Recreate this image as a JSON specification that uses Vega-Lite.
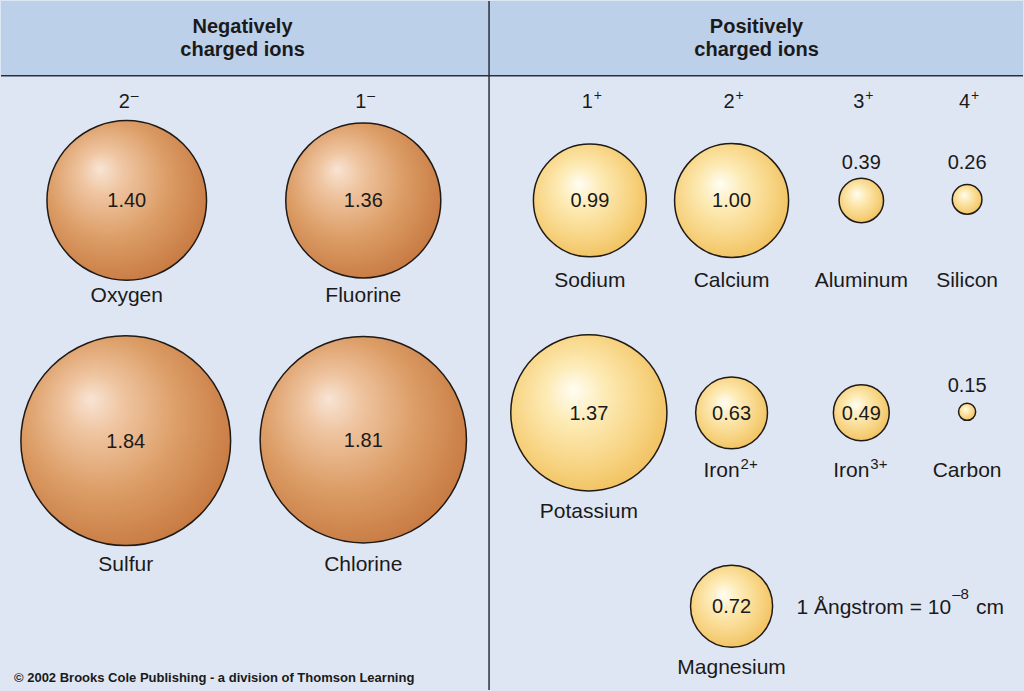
{
  "$schema": "https://vega.github.io/schema/vega-lite/v6.json",
  "width": 1024,
  "height": 691,
  "autosize": {"type": "fit", "contains": "padding"},
  "padding": 0,
  "background": "#dfe6f3",
  "config": {"view": {"stroke": null}, "text": {"font": "Liberation Sans", "color": "#1a1a1a"}},
  "datasets": {
    "ions": [
      {"name": "Oxygen", "sup": "", "radius": 1.40, "group": "neg", "x": 126, "y": 200, "ly": 294, "vy": 200},
      {"name": "Fluorine", "sup": "", "radius": 1.36, "group": "neg", "x": 363, "y": 200, "ly": 294, "vy": 200},
      {"name": "Sulfur", "sup": "", "radius": 1.84, "group": "neg", "x": 125, "y": 441, "ly": 564, "vy": 441},
      {"name": "Chlorine", "sup": "", "radius": 1.81, "group": "neg", "x": 363, "y": 440, "ly": 564, "vy": 440},
      {"name": "Sodium", "sup": "", "radius": 0.99, "group": "pos", "x": 590, "y": 200, "ly": 279, "vy": 200},
      {"name": "Calcium", "sup": "", "radius": 1.00, "group": "pos", "x": 732, "y": 200, "ly": 279, "vy": 200},
      {"name": "Aluminum", "sup": "", "radius": 0.39, "group": "pos", "x": 862, "y": 200, "ly": 279, "vy": 161},
      {"name": "Silicon", "sup": "", "radius": 0.26, "group": "pos", "x": 968, "y": 199, "ly": 279, "vy": 161},
      {"name": "Potassium", "sup": "", "radius": 1.37, "group": "pos", "x": 589, "y": 413, "ly": 511, "vy": 413},
      {"name": "Iron", "sup": "2+", "radius": 0.63, "group": "pos", "x": 732, "y": 413, "ly": 470, "vy": 413},
      {"name": "Iron", "sup": "3+", "radius": 0.49, "group": "pos", "x": 862, "y": 413, "ly": 470, "vy": 413},
      {"name": "Carbon", "sup": "", "radius": 0.15, "group": "pos", "x": 968, "y": 412, "ly": 470, "vy": 385},
      {"name": "Magnesium", "sup": "", "radius": 0.72, "group": "pos", "x": 732, "y": 607, "ly": 667, "vy": 607}
    ],
    "charges": [
      {"n": "2", "sign": "–", "x": 126, "y": 100},
      {"n": "1", "sign": "–", "x": 363, "y": 100},
      {"n": "1", "sign": "+", "x": 590, "y": 100},
      {"n": "2", "sign": "+", "x": 732, "y": 100},
      {"n": "3", "sign": "+", "x": 862, "y": 100},
      {"n": "4", "sign": "+", "x": 968, "y": 100}
    ],
    "headers": [
      {"label": "Negatively\ncharged ions", "x": 242, "y": 26},
      {"label": "Positively\ncharged ions", "x": 757, "y": 26}
    ]
  },
  "encoding": {
    "x": {"type": "quantitative", "scale": {"domain": [0, 1024], "nice": false, "zero": false}, "axis": null},
    "y": {"type": "quantitative", "scale": {"domain": [0, 691], "nice": false, "zero": false, "reverse": true}, "axis": null}
  },
  "layer": [
    {
      "data": {"values": [{}]},
      "mark": {"type": "rect", "color": "#bdd0e9"},
      "encoding": {"x": {"datum": 0}, "x2": {"datum": 1024}, "y": {"datum": 0}, "y2": {"datum": 75}}
    },
    {
      "data": {"values": [{}]},
      "mark": {"type": "rule", "color": "#2a2f3a", "strokeWidth": 1.5},
      "encoding": {"x": {"datum": 0}, "x2": {"datum": 1024}, "y": {"datum": 75}}
    },
    {
      "data": {"values": [{}]},
      "mark": {"type": "rule", "color": "#2a2f3a", "strokeWidth": 1.5},
      "encoding": {"x": {"datum": 489}, "y": {"datum": 0}, "y2": {"datum": 691}}
    },
    {
      "data": {"name": "ions"},
      "transform": [{"filter": "datum.group === 'neg'"}],
      "mark": {
        "type": "circle", "opacity": 1, "stroke": "#1f1a16", "strokeWidth": 1.5,
        "fill": {"gradient": "radial", "x1": 0.33, "y1": 0.3, "r1": 0, "x2": 0.42, "y2": 0.42, "r2": 0.62,
          "stops": [
            {"offset": 0, "color": "#f8e4d4"},
            {"offset": 0.22, "color": "#efc5a1"},
            {"offset": 0.6, "color": "#dc9d66"},
            {"offset": 1, "color": "#c77a42"}
          ]}
      },
      "encoding": {
        "x": {"field": "x", "type": "quantitative"},
        "y": {"field": "y", "type": "quantitative"},
        "size": {"field": "radius", "type": "quantitative", "scale": {"type": "pow", "exponent": 2, "domain": [0, 2], "range": [0, 51984]}, "legend": null}
      }
    },
    {
      "data": {"name": "ions"},
      "transform": [{"filter": "datum.group === 'pos'"}],
      "mark": {
        "type": "circle", "opacity": 1, "stroke": "#1f1a16", "strokeWidth": 1.5,
        "fill": {"gradient": "radial", "x1": 0.4, "y1": 0.35, "r1": 0, "x2": 0.45, "y2": 0.45, "r2": 0.62,
          "stops": [
            {"offset": 0, "color": "#fffdf3"},
            {"offset": 0.3, "color": "#fdebb6"},
            {"offset": 0.7, "color": "#f7d381"},
            {"offset": 1, "color": "#efbd58"}
          ]}
      },
      "encoding": {
        "x": {"field": "x", "type": "quantitative"},
        "y": {"field": "y", "type": "quantitative"},
        "size": {"field": "radius", "type": "quantitative", "legend": null}
      }
    },
    {
      "data": {"name": "ions"},
      "mark": {"type": "text", "fontSize": 20, "baseline": "middle", "align": "center", "dy": 1},
      "encoding": {
        "x": {"field": "x", "type": "quantitative"},
        "y": {"field": "vy", "type": "quantitative"},
        "text": {"field": "radius", "type": "quantitative", "format": ".2f"}
      }
    },
    {
      "data": {"name": "ions"},
      "transform": [{"filter": "datum.sup === ''"}],
      "mark": {"type": "text", "fontSize": 21, "baseline": "middle", "align": "center", "dy": 1.5},
      "encoding": {
        "x": {"field": "x", "type": "quantitative"},
        "y": {"field": "ly", "type": "quantitative"},
        "text": {"field": "name", "type": "nominal"}
      }
    },
    {
      "data": {"name": "ions"},
      "transform": [{"filter": "datum.sup !== ''"}],
      "mark": {"type": "text", "fontSize": 21, "baseline": "middle", "align": "right", "dx": 8, "dy": 1.5},
      "encoding": {
        "x": {"field": "x", "type": "quantitative"},
        "y": {"field": "ly", "type": "quantitative"},
        "text": {"field": "name", "type": "nominal"}
      }
    },
    {
      "data": {"name": "ions"},
      "transform": [{"filter": "datum.sup !== ''"}],
      "mark": {"type": "text", "fontSize": 15, "baseline": "middle", "align": "left", "dx": 9, "dy": -6},
      "encoding": {
        "x": {"field": "x", "type": "quantitative"},
        "y": {"field": "ly", "type": "quantitative"},
        "text": {"field": "sup", "type": "nominal"}
      }
    },
    {
      "data": {"name": "charges"},
      "mark": {"type": "text", "fontSize": 20, "baseline": "middle", "align": "right", "dx": 3, "dy": 1},
      "encoding": {
        "x": {"field": "x", "type": "quantitative"},
        "y": {"field": "y", "type": "quantitative"},
        "text": {"field": "n", "type": "nominal"}
      }
    },
    {
      "data": {"name": "charges"},
      "mark": {"type": "text", "fontSize": 14, "baseline": "middle", "align": "left", "dx": 4, "dy": -5},
      "encoding": {
        "x": {"field": "x", "type": "quantitative"},
        "y": {"field": "y", "type": "quantitative"},
        "text": {"field": "sign", "type": "nominal"}
      }
    },
    {
      "data": {"name": "headers"},
      "mark": {"type": "text", "fontSize": 20, "fontWeight": "bold", "baseline": "middle", "align": "center", "lineBreak": "\n", "lineHeight": 23},
      "encoding": {
        "x": {"field": "x", "type": "quantitative"},
        "y": {"field": "y", "type": "quantitative"},
        "text": {"field": "label", "type": "nominal"}
      }
    },
    {
      "data": {"values": [{}]},
      "mark": {"type": "text", "fontSize": 21, "baseline": "middle", "align": "right", "text": "1 Ångstrom = 10", "dy": 1.5},
      "encoding": {"x": {"datum": 952}, "y": {"datum": 607}}
    },
    {
      "data": {"values": [{}]},
      "mark": {"type": "text", "fontSize": 15, "baseline": "middle", "align": "left", "text": "–8"},
      "encoding": {"x": {"datum": 953}, "y": {"datum": 595}}
    },
    {
      "data": {"values": [{}]},
      "mark": {"type": "text", "fontSize": 21, "baseline": "middle", "align": "left", "text": "cm", "dy": 1.5},
      "encoding": {"x": {"datum": 977}, "y": {"datum": 607}}
    },
    {
      "data": {"values": [{}]},
      "mark": {"type": "text", "fontSize": 13, "fontWeight": "bold", "baseline": "middle", "align": "left", "text": "© 2002 Brooks Cole Publishing - a division of Thomson Learning"},
      "encoding": {"x": {"datum": 13}, "y": {"datum": 679}}
    }
  ]
}
